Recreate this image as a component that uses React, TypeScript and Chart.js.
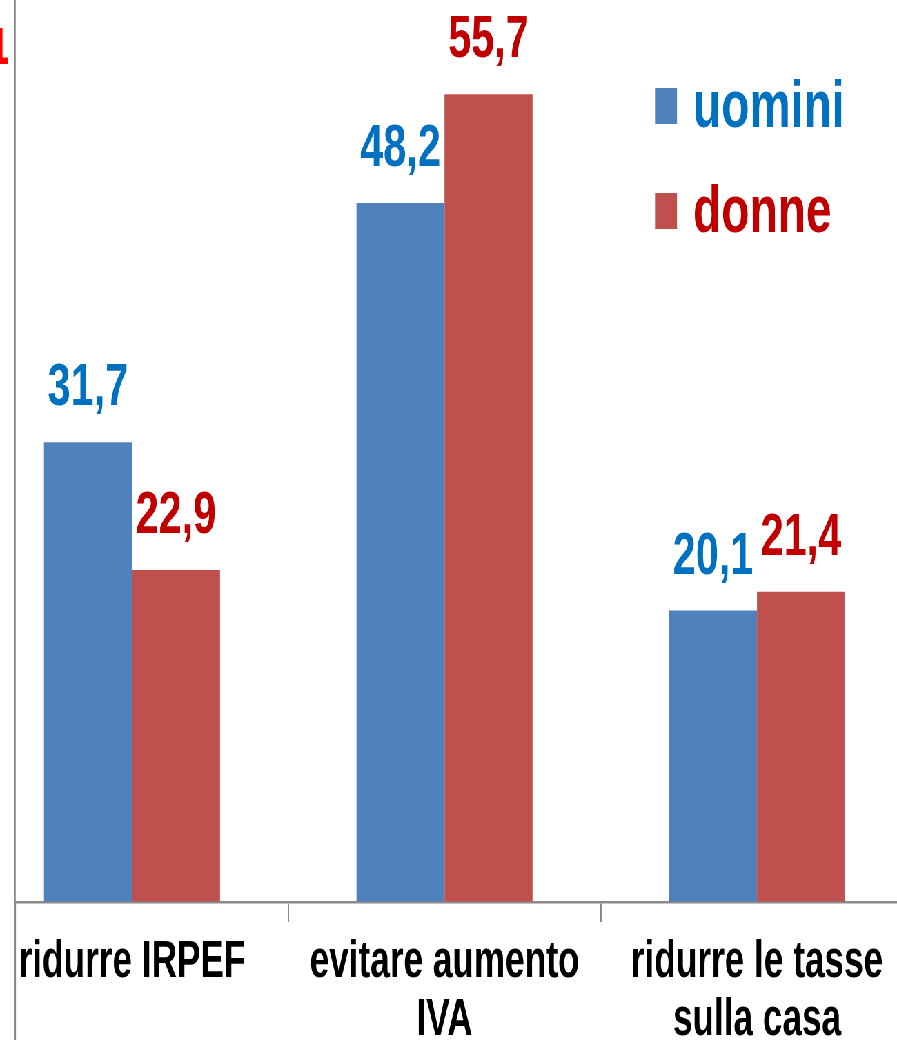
import React, { useEffect, useRef } from "react";
import { Chart, registerables } from "chart.js";

Chart.register(...registerables);

// ---- data ----
const categories: string[][] = [["ridurre IRPEF"], ["evitare aumento", "IVA"], ["ridurre le tasse", "sulla casa"]];
const categoryPositions = [0, 1, 2];
const seriesLabels = ["uomini", "donne"];
const uomini = [31.7, 48.2, 20.1];
const donne = [22.9, 55.7, 21.4];
const barColors = ["#4F81BD", "#C0504D"];
const textColors = ["#0070C0", "#C00000"];
const fragmentText = "1";

// ---- layout / style ----
const SX = 0.69; // horizontal squish of the whole picture
const W = 897 / SX;
const H = 1040;
const FONT = "'Liberation Sans', Arial, sans-serif";
const AXIS_COLOR = "#8a8a8a";

const fmt = (v: number) => v.toFixed(1).replace(".", ",");

const valueLabels = {
  id: "valueLabels",
  afterDatasetsDraw(chart: any) {
    const ctx = chart.ctx;
    ctx.save();
    ctx.font = `bold 60px ${FONT}`;
    ctx.textAlign = "center";
    ctx.textBaseline = "alphabetic";
    chart.data.datasets.forEach((ds: any, di: number) => {
      const meta = chart.getDatasetMeta(di);
      ctx.fillStyle = textColors[di];
      meta.data.forEach((el: any, i: number) => {
        ctx.fillText(fmt(ds.data[i].y), el.x, el.y - 37);
      });
    });
    ctx.restore();
  },
};

const customLegend = {
  id: "customLegend",
  afterDraw(chart: any) {
    const ctx = chart.ctx;
    ctx.save();
    // y-axis line continues down through the label band
    ctx.strokeStyle = AXIS_COLOR;
    ctx.lineWidth = 2.8;
    ctx.beginPath();
    ctx.moveTo(chart.chartArea.left, chart.chartArea.bottom);
    ctx.lineTo(chart.chartArea.left, chart.height);
    ctx.stroke();

    const x0 = 655 / SX;
    const baselines = [127, 232];
    chart.data.datasets.forEach((ds: any, i: number) => {
      const b = baselines[i];
      ctx.fillStyle = ds.backgroundColor;
      ctx.fillRect(x0, b - 39, 22 / SX, 36);
      ctx.fillStyle = textColors[i];
      ctx.font = `bold 67px ${FONT}`;
      ctx.textAlign = "left";
      ctx.textBaseline = "alphabetic";
      ctx.fillText(ds.label, 693 / SX, b);
    });
    // clipped red fragment at the left edge
    ctx.fillStyle = "#FF0000";
    ctx.font = "bold 49px 'DejaVu Sans', sans-serif";
    ctx.textAlign = "center";
    ctx.fillText(fragmentText, -2, 64);
    ctx.restore();
  },
};

export default function App() {
  const ref = useRef<HTMLCanvasElement | null>(null);

  useEffect(() => {
    document.body.style.overflow = "hidden";
    const canvas = ref.current;
    if (!canvas) return;
    const axisLeft = 15 / SX;
    const step = 312.5 / SX;
    const firstCenter = 132 / SX;
    const xMin = -(firstCenter - axisLeft) / step;
    const xMax = xMin + (W - axisLeft) / step;
    const chart = new Chart(canvas, {
      type: "bar",
      data: {
        datasets: [
          {
            label: seriesLabels[0],
            data: uomini.map((v, i) => ({ x: categoryPositions[i], y: v })),
            backgroundColor: barColors[0],
            borderWidth: 0,
            categoryPercentage: 0.5634,
            barPercentage: 1,
          },
          {
            label: seriesLabels[1],
            data: donne.map((v, i) => ({ x: categoryPositions[i], y: v })),
            backgroundColor: barColors[1],
            borderWidth: 0,
            categoryPercentage: 0.5634,
            barPercentage: 1,
          },
        ],
      },
      options: {
        animation: false,
        responsive: true,
        maintainAspectRatio: false,
        layout: { padding: 0 },
        plugins: {
          legend: { display: false },
          tooltip: { enabled: false },
        },
        scales: {
          x: {
            type: "linear",
            offset: false,
            min: xMin,
            max: xMax,
            afterBuildTicks: (scale: any) => {
              scale.ticks = categoryPositions.map((v) => ({ value: v }));
            },
            afterFit: (scale: any) => {
              scale.height = 138;
              scale.paddingLeft = 0;
              scale.paddingRight = 0;
            },
            ticks: {
              autoSkip: false,
              maxRotation: 0,
              minRotation: 0,
              includeBounds: false,
              padding: 12,
              color: "#000000",
              font: { family: FONT, size: 51, weight: "bold", lineHeight: 1.14 },
              callback: (v: any) => {
                const idx = categoryPositions.indexOf(Number(v));
                return idx >= 0 ? categories[idx] : "";
              },
            },
            grid: {
              offset: true,
              drawOnChartArea: false,
              drawTicks: true,
              tickLength: 20,
              color: AXIS_COLOR,
              lineWidth: 2,
            },
            border: { display: true, color: AXIS_COLOR, width: 2.5 },
          },
          y: {
            min: 0,
            max: 62.2,
            afterFit: (scale: any) => {
              scale.width = axisLeft;
            },
            ticks: { display: false },
            grid: { display: true, drawOnChartArea: false, drawTicks: false },
            border: { display: true, color: AXIS_COLOR, width: 2.8 },
          },
        },
      },
      plugins: [valueLabels, customLegend],
    } as any);
    return () => chart.destroy();
  }, []);

  return (
    <div
      style={{
        position: "fixed",
        left: 0,
        top: 0,
        width: `${W}px`,
        height: `${H}px`,
        transform: `scaleX(${SX})`,
        transformOrigin: "0 0",
        background: "#ffffff",
      }}
    >
      <canvas ref={ref} />
    </div>
  );
}
